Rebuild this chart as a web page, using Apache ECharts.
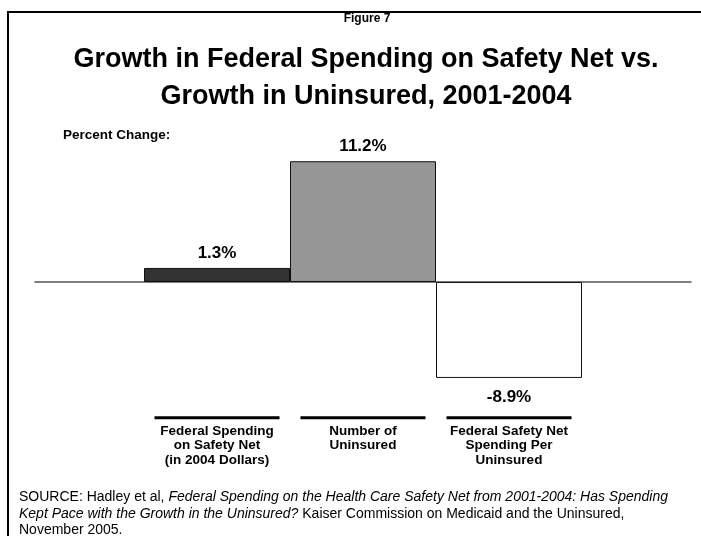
<!DOCTYPE html>
<html>
<head>
<meta charset="utf-8">
<script src="https://cdn.jsdelivr.net/npm/echarts@6/dist/echarts.min.js"></script>
<style>
	html, body { margin: 0; padding: 0; background: #fff; }
	#main { width: 701px; height: 536px; }
</style>
</head>
<body>
<div id="main"></div>
<script>
var categories = [
	'Federal Spending\non Safety Net\n(in 2004 Dollars)',
	'Number of\nUninsured',
	'Federal Safety Net\nSpending Per\nUninsured'
];
var values = [1.3, 11.2, -8.9];
var barColors = ['#333333', '#969696', '#ffffff'];

var FONT = '"Liberation Sans", Arial, sans-serif';

var main = {
	init: function() {
		main.chart()
	},
	chart: function() {
		var myChart = echarts.init(document.getElementById('main'));

		// 负值标签放在柱子下方
		var data = values.map(function(v, i) {
			return {
				value: v,
				itemStyle: { color: barColors[i] },
				label: v < 0 ? { position: 'bottom', distance: 11 } : { position: 'top', distance: 6 }
			};
		});

		var option = {
			backgroundColor: '#fff',
			animation: false,
			textStyle: { fontFamily: FONT },
			title: [{
				text: 'Figure 7',
				left: 362,
				textAlign: 'center',
				top: 8,
				textStyle: { fontSize: 12, fontWeight: 'bold', color: '#000', fontFamily: FONT }
			}, {
				text: 'Growth in Federal Spending on Safety Net vs.\nGrowth in Uninsured, 2001-2004',
				left: 361,
				textAlign: 'center',
				top: 36,
				textStyle: { fontSize: 27, fontWeight: 'bold', color: '#000', lineHeight: 37, fontFamily: FONT }
			}, {
				text: 'Percent Change:',
				left: 58,
				top: 123,
				textStyle: { fontSize: 13.5, fontWeight: 'bold', color: '#000', fontFamily: FONT }
			}, {
				text: 'SOURCE: Hadley et al, {i|Federal Spending on the Health Care Safety Net from 2001-2004: Has Spending}\n{i|Kept Pace with the Growth in the Uninsured?} Kaiser Commission on Medicaid and the Uninsured,\nNovember 2005.',
				left: 14,
				top: 484,
				textStyle: {
					fontSize: 14, fontWeight: 'normal', color: '#000', lineHeight: 16.5, fontFamily: FONT,
					rich: { i: { fontStyle: 'italic', fontSize: 14, fontFamily: FONT } }
				}
			}],
			graphic: [{
				type: 'polyline',
				shape: { points: [[8, 536], [8, 12], [701, 12]] },
				style: { stroke: '#000', lineWidth: 2, fill: null }
			}],
			grid: [{
				left: 144,
				right: 119,
				top: 152.6,
				bottom: 146.2
			}, {
				left: 35,
				right: 10,
				top: 152.6,
				bottom: 146.2
			}],
			xAxis: [{
				type: 'category',
				gridIndex: 0,
				data: categories,
				axisLine: { show: false, onZero: false },
				axisTick: { show: false },
				axisLabel: {
					margin: 22,
					interval: 0,
					fontSize: 13.5,
					fontWeight: 'bold',
					color: '#000',
					lineHeight: 14.5,
					formatter: function(v) {
						return '{bar|}\n' + v;
					},
					rich: {
						bar: { width: 125, height: 3, backgroundColor: '#000', lineHeight: 12 }
					}
				}
			}, {
				type: 'category',
				gridIndex: 1,
				data: [''],
				axisLine: { show: true, onZero: true, lineStyle: { color: '#555', width: 1.5 } },
				axisTick: { show: false },
				axisLabel: { show: false }
			}],
			yAxis: [{
				type: 'value',
				gridIndex: 0,
				min: -10,
				max: 12,
				show: false
			}, {
				type: 'value',
				gridIndex: 1,
				min: -10,
				max: 12,
				show: false
			}],
			series: [{
				type: 'bar',
				xAxisIndex: 0,
				yAxisIndex: 0,
				barCategoryGap: 0,
				itemStyle: { borderColor: '#111', borderWidth: 1 },
				label: {
					show: true,
					fontSize: 17,
					fontWeight: 'bold',
					color: '#000',
					fontFamily: FONT,
					formatter: function(p) { return p.value.toFixed(1) + '%'; }
				},
				data: data,
				z: 3
			}]
		};

		myChart.setOption(option);
	}
}

main.init()
</script>
</body>
</html>
